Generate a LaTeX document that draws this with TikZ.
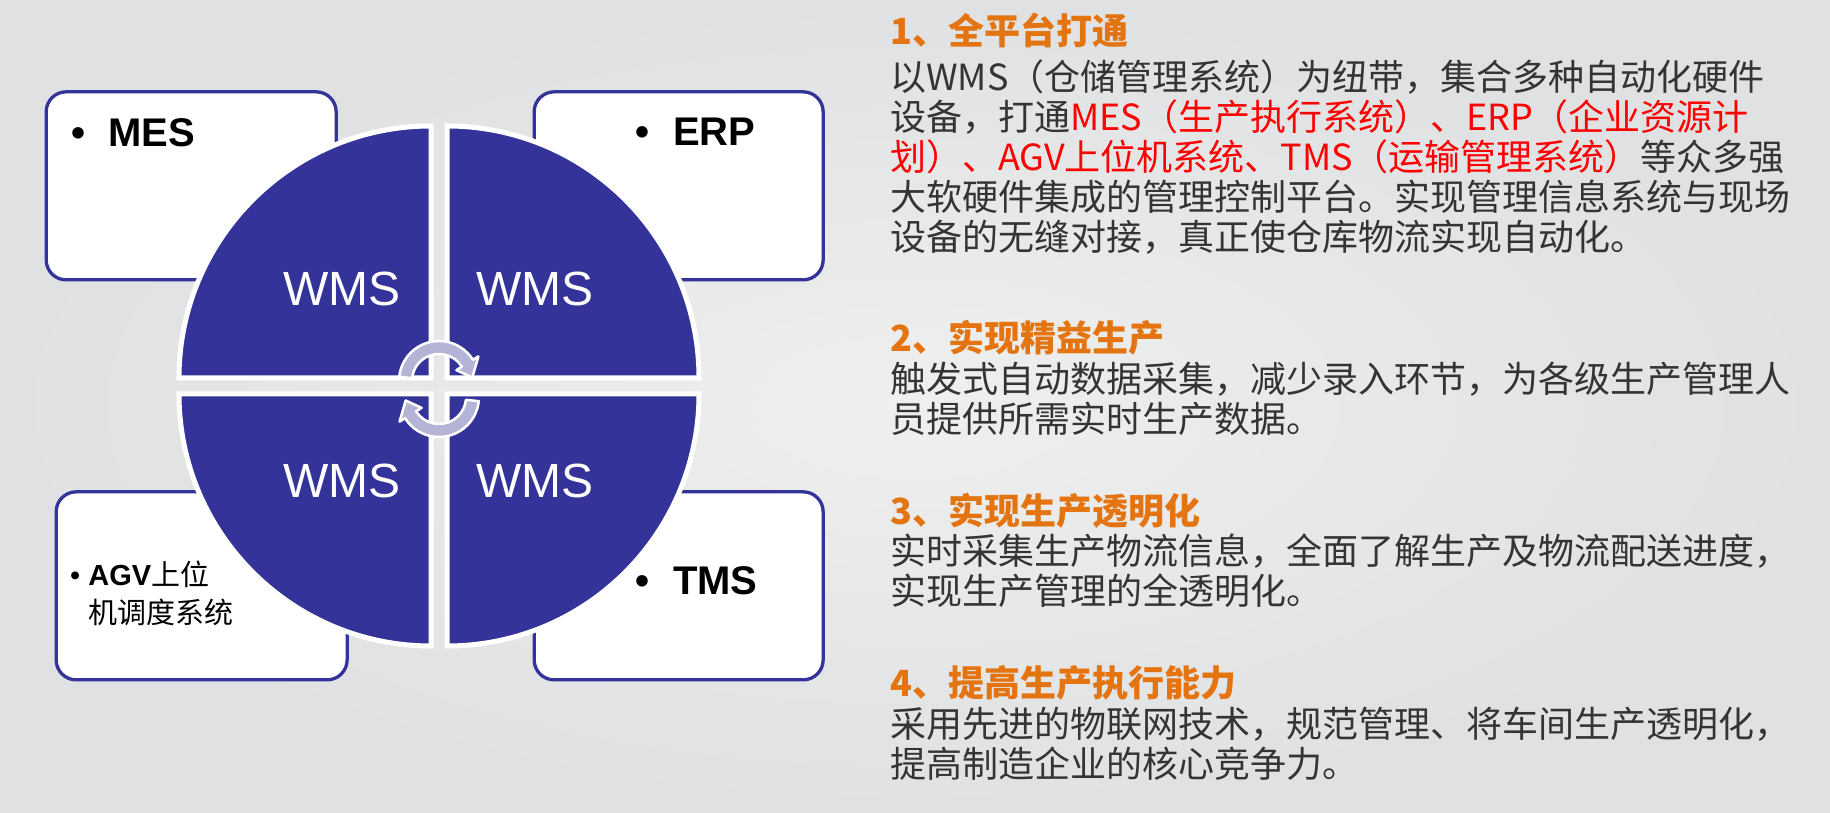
\documentclass[tikz,border=0pt]{standalone}
\usepackage{fontspec}
\setmainfont{Liberation Sans}
\newfontfamily\cjk{Noto Sans CJK SC}
\usepackage{tikz}
\usetikzlibrary{positioning}
\definecolor{wmsblue}{RGB}{51,51,153}
\definecolor{headorange}{RGB}{227,116,16}
\definecolor{bodygray}{RGB}{52,52,52}
\definecolor{turnfill}{RGB}{180,180,214}
\definecolor{bgedge}{RGB}{223,225,226}
\definecolor{bgmid}{RGB}{239,239,239}
\newcommand{\redtxt}[1]{\textcolor{red}{#1}}
\tikzstyle{sysbox}=[draw=wmsblue,fill=white,line width=3.3pt,rounded corners=20pt,anchor=south west,inner sep=0pt]
\tikzstyle{quarter}=[fill=wmsblue,draw=white,line width=5pt]
\tikzstyle{turn}=[fill=turnfill,draw=white,line width=2.5pt,line join=round]
\tikzstyle{wms}=[text=white,font=\fontsize{48pt}{56pt}\selectfont,inner sep=0pt,anchor=base]
\tikzstyle{sys}=[font=\fontsize{40pt}{48pt}\selectfont\bfseries,inner sep=0pt,anchor=base west]
\tikzstyle{head}=[text=headorange,font=\fontsize{36pt}{40pt}\selectfont\cjk\bfseries,inner sep=0pt,anchor=base west]
\tikzstyle{body}=[text=bodygray,font=\fontsize{36pt}{40pt}\selectfont\cjk,inner sep=0pt,anchor=base west]

\begin{document}
\begin{tikzpicture}[x=1pt,y=1pt]
\shade[inner color=bgmid,outer color=bgedge] (0,0) rectangle (1830,813);
\useasboundingbox (0,0) rectangle (1830,813);

\node[sysbox,minimum width=290pt,minimum height=188pt] (mes) at (44.5,531.5) {};
\node[sysbox,minimum width=289pt,minimum height=188pt] (erp) at (532.5,531.5) {};
\node[sysbox,minimum width=291pt,minimum height=188pt] (agv) at (54.5,131.5) {};
\node[sysbox,minimum width=289pt,minimum height=188pt] (tms) at (532.5,131.5) {};

\node[sys] (mest) at (71,666) {•\hspace{23pt}MES};
\node[sys] (erpt) at (635,667) {•\hspace{24pt}ERP};
\node[sys] (tmst) at (635,218) {•\hspace{24pt}TMS};
\node[font=\fontsize{29pt}{35pt}\selectfont,inner sep=0pt,anchor=base west] (agvt) at (70,227)
    {•\hspace{8pt}\textbf{AGV}{\cjk 上位}};
\node[font=\fontsize{29pt}{35pt}\selectfont\cjk,inner sep=0pt,anchor=base west] (agvu) at (88,189) {机调度系统};

\draw[quarter] (431,435) -- ++(-252,0) arc[start angle=180,end angle=90,radius=252] -- cycle;
\draw[quarter] (447,435) -- ++(0,252) arc[start angle=90,end angle=0,radius=252] -- cycle;
\draw[quarter] (447,419) -- ++(252,0) arc[start angle=0,end angle=-90,radius=252] -- cycle;
\draw[quarter] (431,419) -- ++(0,-252) arc[start angle=270,end angle=180,radius=252] -- cycle;

\node[wms] (w1) at (342,507) {WMS};
\node[wms] (w2) at (535,507) {WMS};
\node[wms] (w3) at (342,315) {WMS};
\node[wms] (w4) at (535,315) {WMS};

\foreach \cy/\rot in {432/0,416/180} {
    \begin{scope}[shift={(439,\cy)},rotate=\rot]
        \draw[turn] (174:40) arc[start angle=174,end angle=32,radius=40] -- (32:46.5) -- (6:33.5)
            -- (32:20.5) -- (32:27) arc[start angle=32,end angle=174,radius=27] -- cycle;
    \end{scope}
}

\node[head] (h1) at (890,768) {1、全平台打通};
\foreach \t [count=\i from 0] in {以WMS（仓储管理系统）为纽带，集合多种自动化硬件,
    设备，打通\redtxt{MES（生产执行系统）、ERP（企业资源计},
    \redtxt{划）、AGV上位机系统、TMS（运输管理系统）}等众多强,
    大软硬件集成的管理控制平台。实现管理信息系统与现场,
    设备的无缝对接，真正使仓库物流实现自动化。}
    \node[body] (pa\i) at (890,722-40*\i) {\t};

\node[head] (h2) at (890,461) {2、实现精益生产};
\foreach \t [count=\i from 0] in {触发式自动数据采集，减少录入环节，为各级生产管理人,
    员提供所需实时生产数据。}
    \node[body] (pb\i) at (890,420-40*\i) {\t};

\node[head] (h3) at (890,288) {3、实现生产透明化};
\foreach \t [count=\i from 0] in {实时采集生产物流信息，全面了解生产及物流配送进度，,
    实现生产管理的全透明化。}
    \node[body] (pc\i) at (890,248-40*\i) {\t};

\node[head] (h4) at (890,116) {4、提高生产执行能力};
\foreach \t [count=\i from 0] in {采用先进的物联网技术，规范管理、将车间生产透明化，,
    提高制造企业的核心竞争力。}
    \node[body] (pd\i) at (890,75-40*\i) {\t};
\end{tikzpicture}
\end{document}
